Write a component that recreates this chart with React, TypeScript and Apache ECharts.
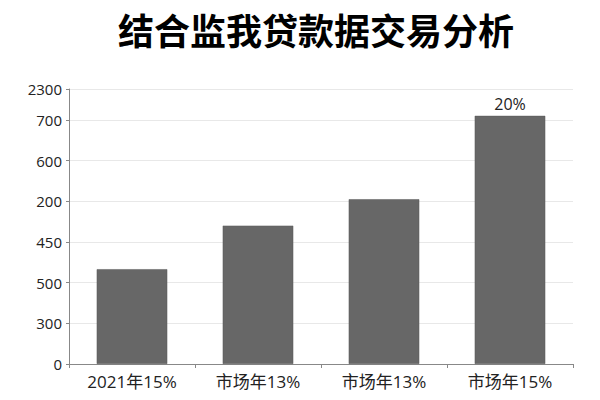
import React, { useEffect, useRef } from 'react';
import * as echarts from 'echarts';

// 数据
const categories = ['2021年15%', '市场年13%', '市场年13%', '市场年15%'];
// 柱高按纵轴刻度位置读取（0 = 第一格，6 = "700" 那一格）
const barValues = [2.33, 3.4, 4.05, 6.1];
const barLabels = ['', '', '', '20%'];
const yTickLabels = ['0', '300', '500', '450', '200', '600', '700', '2300'];
const yMax = 6.76;

const title = '结合监我贷款据交易分析';
const xAxisName = '市场指标';

const App: React.FC = () => {
  const chartRef = useRef<HTMLDivElement>(null);

  useEffect(() => {
    if (!chartRef.current) return;
    const chart = echarts.init(chartRef.current, undefined, { renderer: 'svg' });

    const font = '"Open Sans", "Noto Sans CJK SC", sans-serif';

    chart.setOption({
      animation: false,
      title: {
        text: title,
        left: 113,
        top: 6,
        textStyle: {
          fontSize: 36,
          fontWeight: 'bold',
          color: '#000',
          fontFamily: '"Noto Sans CJK SC", sans-serif'
        }
      },
      grid: {
        left: 69,
        right: 27,
        top: 89,
        bottom: 36,
        containLabel: false,
        outerBoundsMode: 'none'
      },
      xAxis: {
        type: 'category',
        data: categories,
        // 参考图中轴名在底边被截去一半
        name: xAxisName,
        nameLocation: 'middle',
        nameGap: 38,
        nameTextStyle: {
          fontSize: 15,
          color: '#222',
          fontFamily: font,
          padding: [0, 30, 0, 0]
        },
        axisLine: { lineStyle: { color: '#888' } },
        axisTick: { show: true, length: 4, lineStyle: { color: '#888' } },
        axisLabel: {
          fontSize: 17,
          color: '#222',
          margin: 9,
          fontFamily: font
        }
      },
      yAxis: {
        type: 'value',
        min: 0,
        max: yMax,
        interval: 1,
        axisLine: { show: true, lineStyle: { color: '#888' } },
        axisTick: { show: true, length: 3, lineStyle: { color: '#888' } },
        splitLine: { lineStyle: { color: '#e8e8e8' } },
        axisLabel: {
          fontSize: 15,
          color: '#222',
          margin: 7,
          fontFamily: font,
          formatter: (v: number) => {
            if (Math.abs(v - yMax) < 1e-6) return yTickLabels[yTickLabels.length - 1];
            return yTickLabels[Math.round(v)] ?? '';
          }
        }
      },
      series: [
        {
          type: 'bar',
          data: barValues.map((v, i) => ({
            value: v,
            label: {
              show: barLabels[i] !== '',
              position: 'top',
              distance: 4,
              formatter: barLabels[i],
              fontSize: 16,
              color: '#222',
              fontFamily: font
            }
          })),
          barWidth: '56%',
          itemStyle: {
            color: '#676767',
            borderColor: '#5a5a5a',
            borderWidth: 0.5
          }
        }
      ]
    });

    return () => {
      chart.dispose();
    };
  }, []);

  return (
    <div
      ref={chartRef}
      style={{ position: 'absolute', left: 0, top: 0, width: '600px', height: '400px', background: '#fff' }}
    ></div>
  );
};

export default App;
